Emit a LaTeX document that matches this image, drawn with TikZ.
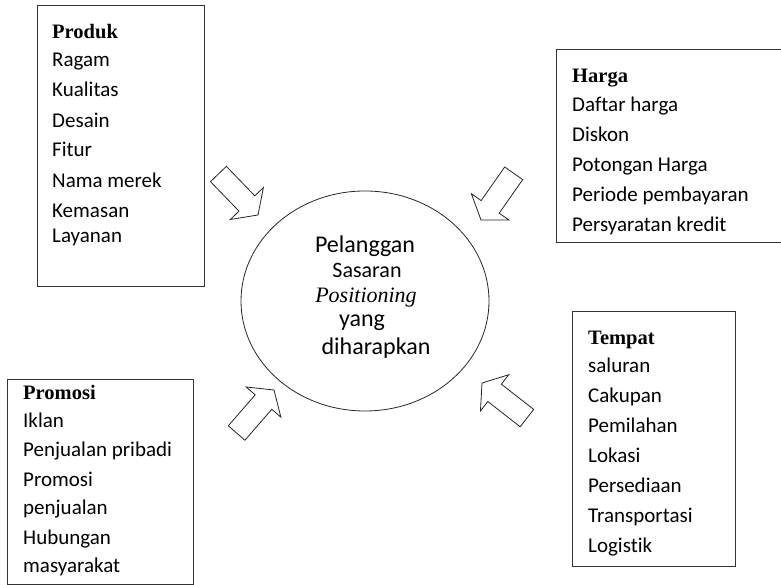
\documentclass[tikz,border=0pt]{standalone}
\usepackage{fontspec}
\setmainfont{Carlito}[Ligatures=NoCommon]
\newfontfamily\tnr{Liberation Serif}
\begin{document}
\begin{tikzpicture}[x=1pt,y=1pt,
  box/.style={draw=black!80, line width=0.9pt, inner sep=0pt},
  itm/.style={anchor=base west, inner sep=0pt, font=\fontsize{21}{24}\selectfont},
  hd/.style={anchor=base west, inner sep=0pt, font=\tnr\bfseries\fontsize{20.5}{24}\selectfont},
  ctr/.style={anchor=base, inner sep=0pt},
  barrow/.style={draw=black!85, line width=0.8pt, fill=white}]
\useasboundingbox (0,0) rectangle (781,585);
% boxes
\node[box, minimum width=167pt, minimum height=281pt] (produk) at (120.5,439.5) {};
\node[box, minimum width=234pt, minimum height=193pt] (harga) at (673,439.5) {};
\node[box, minimum width=163pt, minimum height=255pt] (tempat) at (653.5,146.5) {};
\node[box, minimum width=186pt, minimum height=205pt] (promosi) at (100,103.5) {};
% centre ellipse
\draw[line width=0.8pt, black!85] (365,284) ellipse [x radius=124, y radius=110];
\coordinate (centre) at (365,284);
% Produk
\node[hd] (produkh) at (52,546) {Produk};
\foreach \t/\y [count=\i] in {Ragam/67, Kualitas/97, Desain/128, Fitur/157, Nama merek/188, Kemasan/218, Layanan/243}
  \node[itm] (produk\i) at (52,585-\y) {\t};
% Harga
\node[hd] (hargah) at (572,502) {Harga};
\foreach \t/\y [count=\i] in {Daftar harga/112, Diskon/142, Potongan Harga/172, Periode pembayaran/202, Persyaratan kredit/232}
  \node[itm] (harga\i) at (572,585-\y) {\t};
% Tempat
\node[hd] (tempath) at (588,240) {Tempat};
\foreach \t/\y [count=\i] in {saluran/373, Cakupan/403, Pemilahan/433, Lokasi/463, Persediaan/493, Transportasi/523, Logistik/553}
  \node[itm] (tempat\i) at (588,585-\y) {\t};
% Promosi
\node[hd] (promosih) at (23,185) {Promosi};
\foreach \t/\y [count=\i] in {Iklan/428, Penjualan pribadi/457, Promosi/487, penjualan/515, Hubungan/545, masyarakat/573}
  \node[itm] (promosi\i) at (23,585-\y) {\t};
% centre text
\node[ctr, font=\fontsize{24}{28}\selectfont] (c1) at (365,332) {Pelanggan};
\node[ctr, font=\fontsize{22}{26}\selectfont] (c2) at (367,307) {Sasaran};
\node[ctr, font=\tnr\itshape\fontsize{22}{26}\selectfont] (c3) at (366,282) {Positioning};
\node[ctr, font=\fontsize{24}{28}\selectfont] (c4) at (362,258) {yang};
\node[ctr, font=\fontsize{24}{28}\selectfont] (c5) at (376,230) {diharapkan};
% block arrows
\foreach \px/\py/\ang in {258/370/-46, 481/365/235, 274/195/49, 482/202/142}
  \draw[barrow, shift={(\px,\py)}, rotate=\ang]
    (0,0) -- (-16,23) -- (-16,11) -- (-57,11) -- (-57,-11) -- (-16,-11) -- (-16,-23) -- cycle;
\end{tikzpicture}
\end{document}
